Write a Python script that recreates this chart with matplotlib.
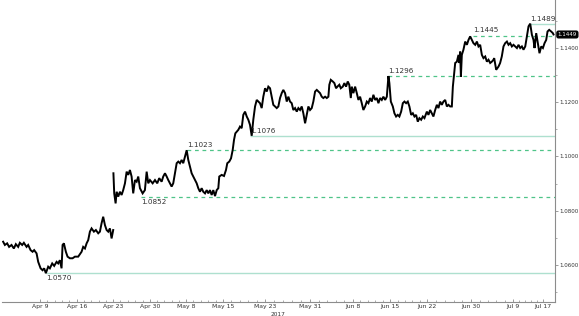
import numpy as np
import matplotlib
matplotlib.use("Agg")
import matplotlib.pyplot as plt

# EUR/USD, trading-day index (t) vs price
# first block: before the Apr 23 weekend gap
t1 = [0.45, 0.69, 1.00, 1.27, 1.60, 1.92, 2.19, 2.51, 2.74, 3.06, 3.29, 3.66, 3.88,
      4.21, 4.48, 4.70, 5.03, 5.25, 5.58, 5.85, 6.07, 6.30, 6.62, 6.85, 7.17, 7.44,
      7.77, 7.99, 8.22, 8.45, 8.59, 8.77, 9.04, 9.27, 9.59, 9.96, 10.28, 10.73, 11.19,
      11.41, 11.65, 11.88, 12.10, 12.33, 12.56, 12.88, 13.15, 13.47, 13.70, 13.93,
      14.15, 14.39, 14.62, 14.84, 15.07, 15.30, 15.52]
p1 = [1.0686, 1.0674, 1.0680, 1.0667, 1.0674, 1.0661, 1.0677, 1.0667, 1.0682, 1.0674,
      1.0682, 1.0667, 1.0674, 1.0655, 1.0649, 1.0655, 1.0643, 1.0612, 1.0588, 1.0581,
      1.0588, 1.0570, 1.0594, 1.0588, 1.0606, 1.0597, 1.0612, 1.0606, 1.0618, 1.0588,
      1.0674, 1.0680, 1.0649, 1.0631, 1.0625, 1.0625, 1.0631, 1.0631, 1.0649, 1.0667,
      1.0661, 1.0680, 1.0692, 1.0723, 1.0735, 1.0723, 1.0729, 1.0717, 1.0723, 1.0754,
      1.0778, 1.0747, 1.0729, 1.0723, 1.0735, 1.0698, 1.0729]

# second block: after the gap
t2 = [15.55, 15.66, 15.85, 15.99, 16.21, 16.44, 16.67, 16.89, 17.13, 17.36, 17.58,
      17.81, 18.04, 18.26, 18.50, 18.73, 18.95, 19.18, 19.55, 19.86, 20.10, 20.32,
      20.55, 20.92, 21.24, 21.55, 21.82, 22.15, 22.37, 22.61, 22.84, 23.06, 23.29,
      23.52, 23.74, 23.98, 24.21, 24.43, 24.66, 24.89, 25.11, 25.35, 25.58, 25.80,
      26.03, 26.26, 26.48, 26.72, 26.95, 27.17, 27.40, 27.63, 27.85, 28.09, 28.32,
      28.54, 28.77, 29.00, 29.22, 29.46, 29.69, 29.91, 30.04, 30.37, 30.69, 30.96,
      31.14, 31.41, 31.65, 31.88, 32.06, 32.24, 32.43, 32.65, 32.88, 33.11, 33.33,
      33.57, 33.80, 34.02, 34.25, 34.48, 34.70, 34.94, 35.17, 35.39, 35.62, 35.85,
      36.07, 36.31, 36.54, 36.76, 36.99, 37.22, 37.44, 37.68, 37.91, 38.13, 38.36,
      38.59, 38.81, 39.05, 39.28, 39.50, 39.73, 39.96, 40.18, 40.42, 40.65, 40.87,
      41.10, 41.33, 41.55, 41.79, 42.02, 42.24, 42.47, 42.70, 42.92, 43.16, 43.39,
      43.61, 43.84, 44.07, 44.29, 44.53, 44.76, 44.98, 45.11, 45.31, 45.58, 45.80,
      46.03, 46.21, 46.48, 46.68, 46.95, 47.17, 47.40, 47.63, 47.84, 48.05, 48.18,
      48.40, 48.64, 48.87, 49.09, 49.32, 49.55, 49.77, 50.01, 50.24, 50.46, 50.69,
      50.92, 51.14, 51.38, 51.61, 51.83, 52.06, 52.29, 52.51, 52.75, 52.98, 53.20,
      53.33, 53.53, 53.80, 54.02, 54.25, 54.48, 54.70, 54.94, 55.17, 55.39, 55.62,
      55.85, 56.07, 56.31, 56.54, 56.76, 56.99, 57.22, 57.44, 57.68, 57.91, 58.13,
      58.46, 58.68, 58.91, 59.14, 59.36, 59.60, 59.83, 60.05, 60.28, 60.51, 60.73,
      60.97, 61.20, 61.42, 61.65, 61.88, 62.02, 62.20, 62.34, 62.57, 62.79, 62.92,
      63.02, 63.12, 63.25, 63.47, 63.71, 63.94, 64.16, 64.39, 64.62, 64.84, 65.08,
      65.31, 65.53, 65.76, 65.99, 66.21, 66.45, 66.68, 66.90, 67.13, 67.36, 67.58,
      67.68, 67.95, 68.27, 68.49, 68.72, 68.95, 69.18, 69.42, 69.64, 69.87, 70.10,
      70.32, 70.56, 70.79, 71.01, 71.24, 71.47, 71.69, 71.93, 72.16, 72.38, 72.61,
      72.84, 73.06, 73.20, 73.43, 73.66, 73.88, 74.12, 74.35, 74.57, 74.80, 74.98,
      75.21, 75.48, 75.71, 75.80]
p2 = [1.0938, 1.0864, 1.0827, 1.0870, 1.0852, 1.0870, 1.0858, 1.0876, 1.0901, 1.0944,
      1.0932, 1.0950, 1.0926, 1.0864, 1.0913, 1.0907, 1.0926, 1.0883, 1.0864, 1.0876,
      1.0944, 1.0901, 1.0913, 1.0901, 1.0913, 1.0901, 1.0920, 1.0907, 1.0926, 1.0938,
      1.0926, 1.0913, 1.0901, 1.0889, 1.0901, 1.0938, 1.0975, 1.0981, 1.0975, 1.0987,
      1.0975, 1.0999, 1.1023, 1.0987, 1.0962, 1.0938, 1.0926, 1.0913, 1.0901, 1.0883,
      1.0870, 1.0883, 1.0870, 1.0864, 1.0876, 1.0864, 1.0876, 1.0858, 1.0876, 1.0854,
      1.0876, 1.0883, 1.0926, 1.0932, 1.0928, 1.0950, 1.0975, 1.0981, 1.0993, 1.1024,
      1.1061, 1.1085, 1.1091, 1.1098, 1.1110, 1.1104, 1.1153, 1.1165, 1.1147, 1.1135,
      1.1116, 1.1076, 1.1135, 1.1184, 1.1208, 1.1202, 1.1196, 1.1178, 1.1220, 1.1251,
      1.1239, 1.1257, 1.1251, 1.1220, 1.1190, 1.1184, 1.1178, 1.1184, 1.1215, 1.1233,
      1.1245, 1.1233, 1.1202, 1.1220, 1.1202, 1.1196, 1.1171, 1.1178, 1.1165, 1.1178,
      1.1171, 1.1184, 1.1159, 1.1122, 1.1153, 1.1184, 1.1171, 1.1178, 1.1202, 1.1239,
      1.1245, 1.1239, 1.1233, 1.1220, 1.1215, 1.1220, 1.1215, 1.1220, 1.1264, 1.1282,
      1.1276, 1.1270, 1.1251, 1.1257, 1.1264, 1.1251, 1.1257, 1.1270, 1.1257, 1.1276,
      1.1264, 1.1215, 1.1257, 1.1233, 1.1257, 1.1233, 1.1208, 1.1220, 1.1196, 1.1171,
      1.1184, 1.1202, 1.1196, 1.1215, 1.1202, 1.1227, 1.1208, 1.1215, 1.1196, 1.1215,
      1.1208, 1.1220, 1.1208, 1.1220, 1.1296, 1.1270, 1.1202, 1.1184, 1.1159, 1.1147,
      1.1153, 1.1147, 1.1165, 1.1196, 1.1202, 1.1196, 1.1202, 1.1184, 1.1153, 1.1159,
      1.1147, 1.1153, 1.1128, 1.1141, 1.1135, 1.1147, 1.1141, 1.1165, 1.1153, 1.1171,
      1.1159, 1.1147, 1.1171, 1.1190, 1.1178, 1.1202, 1.1190, 1.1202, 1.1208, 1.1184,
      1.1190, 1.1184, 1.1184, 1.1257, 1.1307, 1.1344, 1.1349, 1.1374, 1.1344, 1.1386,
      1.1294, 1.1374, 1.1393, 1.1423, 1.1411, 1.1429, 1.1442, 1.1429, 1.1417, 1.1411,
      1.1423, 1.1405, 1.1411, 1.1374, 1.1362, 1.1368, 1.1349, 1.1356, 1.1344, 1.1349,
      1.1356, 1.1362, 1.1319, 1.1331, 1.1344, 1.1368, 1.1405, 1.1417, 1.1423, 1.1411,
      1.1417, 1.1405, 1.1411, 1.1405, 1.1399, 1.1411, 1.1399, 1.1405, 1.1393, 1.1405,
      1.1442, 1.1479, 1.1489, 1.1448, 1.1429, 1.1399, 1.1454, 1.1417, 1.1380, 1.1405,
      1.1399, 1.1417, 1.1429, 1.1460, 1.1466, 1.1460, 1.1454, 1.1449]

# x-axis date labels and their positions on the trading-day index
tick_pos = [5.48, 10.55, 15.48, 20.55, 25.48, 30.55, 36.31, 42.47, 48.36, 53.43,
            58.50, 64.53, 70.28, 74.39]
tick_lab = ["Apr 9", "Apr 16", "Apr 23", "Apr 30", "May 8", "May 15", "May 23",
            "May 31", "Jun 8", "Jun 15", "Jun 22", "Jun 30", "Jul 9", "Jul 17"]

# support / resistance levels: value, start index, style, label above?
lvl_val = [1.0570, 1.0852, 1.1023, 1.1076, 1.1296, 1.1445, 1.1489]
lvl_start = [6.30, 19.30, 25.58, 34.30, 53.20, 64.80, 72.55]
lvl_dashed = [False, True, True, False, True, True, False]
lvl_above = [False, False, True, True, True, True, True]
last_val = 1.1449

DASH = "#4fc488"
SOLID = "#aee0cf"
GREY = "#8c8c8c"

fig = plt.figure(figsize=(5.79, 3.16), dpi=100)
ax = fig.add_axes([0.0035, 0.0443, 0.955, 0.9557])

t_all = np.concatenate([t1, [np.nan], t2])
p_all = np.concatenate([p1, [np.nan], p2])
ax.plot(t_all, p_all, color="black", lw=1.4, solid_joinstyle="miter", zorder=3)

xmax = 76.0
for v, s, d, up in zip(lvl_val, lvl_start, lvl_dashed, lvl_above):
    if d:
        ax.hlines(v, s, xmax, colors=DASH, linestyles=(0, (3, 3)), lw=0.9, zorder=2)
    else:
        ax.hlines(v, s, xmax, colors=SOLID, lw=1.0, zorder=2)
    ax.annotate(f"{v:.4f}", (s, v), xytext=(0, 1.5 if up else -1.5),
                textcoords="offset points", fontsize=5.2, color="#333333",
                ha="left", va="bottom" if up else "top", zorder=4)

ax.set_xlim(0.3, xmax)
ax.set_ylim(1.0464, 1.1576)

for sp in ["left", "top"]:
    ax.spines[sp].set_visible(False)
for sp in ["right", "bottom"]:
    ax.spines[sp].set_color(GREY)
    ax.spines[sp].set_linewidth(0.8)

ax.yaxis.tick_right()
ax.set_yticks([1.06, 1.08, 1.10, 1.12, 1.14])
ax.set_yticks(np.arange(1.05, 1.156, 0.01), minor=True)
ax.yaxis.set_major_formatter(matplotlib.ticker.FormatStrFormatter("%.4f"))
ax.tick_params(axis="y", which="major", labelsize=4.0, length=2.0, width=0.6,
               color=GREY, pad=0.8, labelcolor="#333333")
ax.tick_params(axis="y", which="minor", length=1.5, width=0.5, color=GREY)

ax.set_xticks(tick_pos)
ax.set_xticklabels(tick_lab)
minor = []
for a, b in zip(tick_pos[:-1], tick_pos[1:]):
    minor.extend(np.linspace(a, b, 6)[1:-1])
ax.set_xticks(minor, minor=True)
ax.tick_params(axis="x", which="major", labelsize=4.4, length=2.5, width=0.6,
               color=GREY, pad=1.5, labelcolor="#333333", direction="in")
ax.tick_params(axis="x", which="minor", length=1.5, width=0.5, color=GREY,
               direction="in")

ax.annotate("2017", (tick_pos[6], 0), xycoords=("data", "axes fraction"),
            xytext=(9, -7.5), textcoords="offset points", fontsize=4.2,
            color="#333333", ha="center", va="top", annotation_clip=False)

ax.annotate(f"{last_val:.4f}", (1, last_val), xycoords=("axes fraction", "data"),
            xytext=(2.0, 0), textcoords="offset points", fontsize=4.0,
            color="white", ha="left", va="center", annotation_clip=False,
            bbox=dict(boxstyle="round,pad=0.15,rounding_size=0.3", fc="black", ec="black"))

fig.savefig("out.png", dpi=100)
